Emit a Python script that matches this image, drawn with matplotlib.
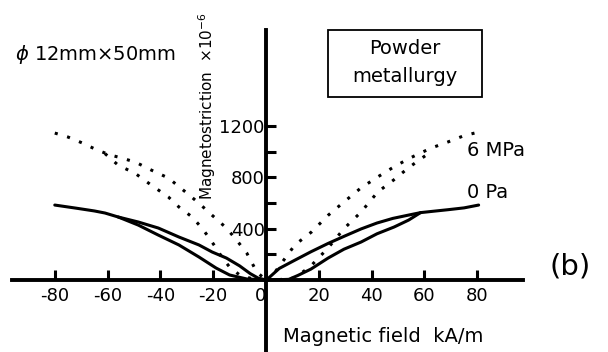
import numpy as np
import matplotlib
matplotlib.use("Agg")
import matplotlib.pyplot as plt
from matplotlib.patches import Rectangle

# magnetic field in kA/m, magnetostriction in 1e-6
# 0 Pa loop (solid)
field_0pa_a = [-80, -72, -65, -61, -56, -48.4, -40.8, -33, -25.4, -20.4, -15, -10, -6, -3, 0]
strain_0pa_a = [584, 560, 538, 522, 491, 452, 405, 335, 273, 218, 171, 110, 50, 15, 0]
field_0pa_b = [-56, -48.4, -40.8, -33, -25.4, -18.9, -13.8, -7.3, 0]
strain_0pa_b = [491, 428, 350, 273, 179, 93, 39, 8, 0]
field_0pa_c = [0, 1, 5, 10.5, 17, 23.5, 29.5, 36, 42, 48, 54, 58.5, 63, 69, 75, 80.5]
strain_0pa_c = [0, 16, 90, 150, 220, 285, 340, 398, 444, 480, 506, 525, 535, 548, 562, 584]
field_0pa_d = [0, 4, 8.6, 12, 17, 23.5, 29.5, 36, 42, 48.5, 54, 58.5]
strain_0pa_d = [0, 2, 5, 35, 85, 171, 240, 296, 360, 413, 467, 525]

# 6 MPa loop (dotted)
field_6mpa_a = [-80, -75, -69.5, -64, -59, -56, -49.5, -43.5, -37, -30.5, -25.5, -20.5, -15,
                -11.2, -7.3, -3.5, 0]
strain_6mpa_a = [1145, 1114, 1067, 1013, 974, 958, 919, 857, 795, 686, 600, 506, 405,
                 312, 210, 62, 0]
field_6mpa_b = [-61, -56, -49.5, -43.5, -37, -33, -28, -24.3, -21.5, -18.9, -16.5, -13.8, -10, -5, 0]
strain_6mpa_b = [985, 895, 830, 740, 647, 569, 491, 405, 327, 249, 171, 101, 39, 8, 0]
field_6mpa_c = [0, 3.4, 10.9, 17.2, 23.6, 29.5, 35.9, 42.2, 48.3, 54, 57, 62.5, 68.8, 75, 79]
strain_6mpa_c = [0, 62, 273, 374, 506, 608, 717, 802, 880, 945, 975, 1028, 1075, 1125, 1145]
field_6mpa_d = [0, 5, 10.9, 17, 23.5, 29.5, 36, 42.3, 48.3, 53.8, 58, 62.5]
strain_6mpa_d = [0, 3, 16, 110, 250, 400, 530, 686, 779, 872, 935, 1000]

x_ticks = [-80, -60, -40, -20, 0, 20, 40, 60, 80]
y_major = [400, 800, 1200]
y_minor = [200, 600, 1000]

W, H = 608, 352
fig = plt.figure(figsize=(W / 100, H / 100), dpi=100)
ax = fig.add_axes([12 / W, 0, 511 / W, 322 / H])
ax.set_xlim(-96.2, 97.3)
ax.set_ylim(-561, 1948)

for fx, sy in [(field_0pa_a, strain_0pa_a), (field_0pa_b, strain_0pa_b),
               (field_0pa_c, strain_0pa_c), (field_0pa_d, strain_0pa_d)]:
    ax.plot(fx, sy, color="black", lw=2.2, solid_capstyle="round", solid_joinstyle="round")
for fx, sy in [(field_6mpa_a, strain_6mpa_a), (field_6mpa_b, strain_6mpa_b),
               (field_6mpa_c, strain_6mpa_c), (field_6mpa_d, strain_6mpa_d)]:
    ax.plot(fx, sy, color="black", lw=2.2, linestyle=(0, (1, 3.2)))

for s in ["top", "right"]:
    ax.spines[s].set_visible(False)
ax.spines["left"].set_position(("data", 0))
ax.spines["bottom"].set_position(("data", 0))
ax.spines["left"].set_linewidth(2.8)
ax.spines["bottom"].set_linewidth(2.8)

ax.set_xticks(x_ticks, [str(v) for v in x_ticks])
ax.set_yticks(y_major, [str(v) for v in y_major])
ax.set_yticks(y_minor, minor=True)
ax.tick_params(axis="x", direction="in", length=7, width=2.2, pad=5, labelsize=13)
ax.tick_params(axis="y", which="both", direction="in", length=7, width=2.2, pad=1, labelsize=13)
for lab in ax.get_xticklabels():
    if lab.get_text() == "0":
        lab.set_horizontalalignment("right")

fig.text(207 / W, 1 - 106 / H, "Magnetostriction  $\\times$10$^{-6}$", rotation=90,
         ha="center", va="center", fontsize=11)
fig.text(283 / W, 1 - 337 / H, "Magnetic field  kA/m", ha="left", va="center", fontsize=14)
fig.text(15 / W, 1 - 55 / H, "$\\phi$ 12mm×50mm", ha="left", va="center", fontsize=14)
fig.text(467 / W, 1 - 150 / H, "6 MPa", ha="left", va="center", fontsize=14)
fig.text(467 / W, 1 - 193 / H, "0 Pa", ha="left", va="center", fontsize=14)
fig.text(549 / W, 1 - 266 / H, "(b)", ha="left", va="center", fontsize=21)

fig.patches.append(Rectangle((328 / W, 1 - 97 / H), 154 / W, 67 / H,
                             transform=fig.transFigure, fill=False, lw=1.3, color="black"))
fig.text(405 / W, 1 - 63 / H, "Powder\nmetallurgy", ha="center", va="center",
         fontsize=14, linespacing=1.6)

fig.savefig("out.png", dpi=100)
